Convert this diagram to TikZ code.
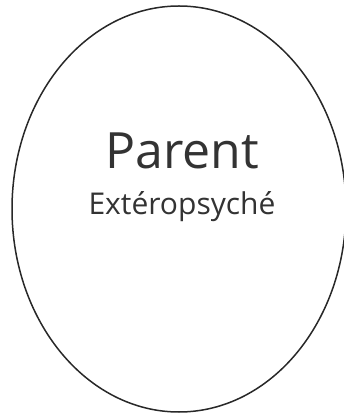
\documentclass[tikz,border=0pt]{standalone}
\usepackage{fontspec}
\setmainfont{Open Sans}
\usetikzlibrary{shapes.geometric}
\definecolor{egoink}{RGB}{51,51,51}
\definecolor{egoline}{RGB}{40,40,40}

\tikzset{
  egostate/.style={draw=egoline,line width=1.5pt,ellipse,inner sep=0pt,
    minimum width=334pt,minimum height=406pt},
  egotitle/.style={text=egoink,font=\fontsize{50}{56}\selectfont,anchor=base,inner sep=0pt},
  egosub/.style={text=egoink,font=\fontsize{30}{34}\selectfont,anchor=base,inner sep=0pt}
}

\begin{document}
\begin{tikzpicture}[x=1pt,y=1pt]
    \useasboundingbox (0,0) rectangle (343,415);
    \node[egostate] (parent) at (179,206) {};
    \node[egotitle] (title) at (182,246) {Parent};
    \node[egosub] (sub) at (182,200) {Extéropsyché};
  \end{tikzpicture}
\end{document}
